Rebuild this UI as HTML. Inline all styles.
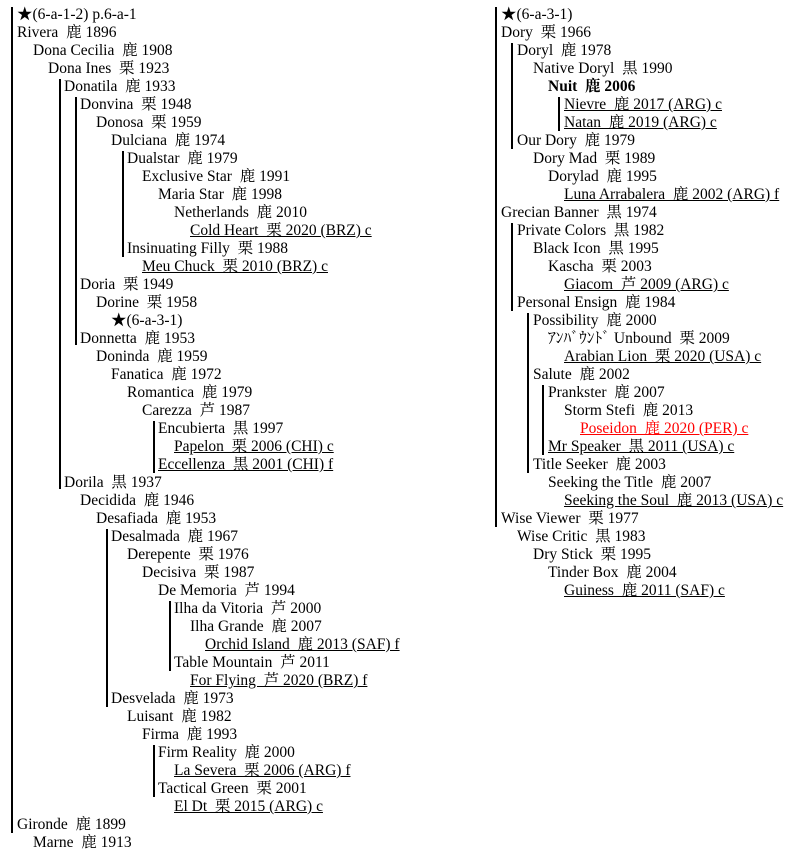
<!DOCTYPE html>
<html><head><meta charset="utf-8"><style>
body{margin:0;width:799px;height:847px;overflow:hidden;background:#fff;position:relative;font-family:"Liberation Serif","Noto Serif CJK SC","Noto Sans CJK JP",serif;font-size:15.5px;color:#000}
.r{position:absolute;white-space:pre;line-height:18px;height:18px;margin-top:1px}
.u{text-decoration:underline}
.v{position:absolute;width:2px;background:#000}
.red{color:#f00}
</style></head><body>
<div class="v" style="left:11px;top:7px;height:826px"></div>
<div class="v" style="left:59px;top:79px;height:410px"></div>
<div class="v" style="left:75px;top:97px;height:248px"></div>
<div class="v" style="left:122px;top:151px;height:106px"></div>
<div class="v" style="left:153px;top:421px;height:52px"></div>
<div class="v" style="left:106px;top:529px;height:178px"></div>
<div class="v" style="left:169px;top:601px;height:70px"></div>
<div class="v" style="left:153px;top:745px;height:52px"></div>
<div class="v" style="left:495px;top:7px;height:520px"></div>
<div class="v" style="left:511px;top:43px;height:106px"></div>
<div class="v" style="left:558px;top:97px;height:34px"></div>
<div class="v" style="left:511px;top:223px;height:88px"></div>
<div class="v" style="left:527px;top:313px;height:160px"></div>
<div class="v" style="left:542px;top:385px;height:70px"></div>

<div class="r" style="left:17px;top:5px">★(6-a-1-2) p.6-a-1</div>
<div class="r" style="left:17px;top:23px">Rivera  鹿 1896</div>
<div class="r" style="left:33px;top:41px">Dona Cecilia  鹿 1908</div>
<div class="r" style="left:48px;top:59px">Dona Ines  栗 1923</div>
<div class="r" style="left:64px;top:77px">Donatila  鹿 1933</div>
<div class="r" style="left:80px;top:95px">Donvina  栗 1948</div>
<div class="r" style="left:96px;top:113px">Donosa  栗 1959</div>
<div class="r" style="left:111px;top:131px">Dulciana  鹿 1974</div>
<div class="r" style="left:127px;top:149px">Dualstar  鹿 1979</div>
<div class="r" style="left:142px;top:167px">Exclusive Star  鹿 1991</div>
<div class="r" style="left:158px;top:185px">Maria Star  鹿 1998</div>
<div class="r" style="left:174px;top:203px">Netherlands  鹿 2010</div>
<div class="r u" style="left:190px;top:221px">Cold Heart  栗 2020 (BRZ) c</div>
<div class="r" style="left:127px;top:239px">Insinuating Filly  栗 1988</div>
<div class="r u" style="left:142px;top:257px">Meu Chuck  栗 2010 (BRZ) c</div>
<div class="r" style="left:80px;top:275px">Doria  栗 1949</div>
<div class="r" style="left:96px;top:293px">Dorine  栗 1958</div>
<div class="r" style="left:111px;top:311px">★(6-a-3-1)</div>
<div class="r" style="left:80px;top:329px">Donnetta  鹿 1953</div>
<div class="r" style="left:96px;top:347px">Doninda  鹿 1959</div>
<div class="r" style="left:111px;top:365px">Fanatica  鹿 1972</div>
<div class="r" style="left:127px;top:383px">Romantica  鹿 1979</div>
<div class="r" style="left:142px;top:401px">Carezza  芦 1987</div>
<div class="r" style="left:158px;top:419px">Encubierta  黒 1997</div>
<div class="r u" style="left:174px;top:437px">Papelon  栗 2006 (CHI) c</div>
<div class="r u" style="left:158px;top:455px">Eccellenza  黒 2001 (CHI) f</div>
<div class="r" style="left:64px;top:473px">Dorila  黒 1937</div>
<div class="r" style="left:80px;top:491px">Decidida  鹿 1946</div>
<div class="r" style="left:96px;top:509px">Desafiada  鹿 1953</div>
<div class="r" style="left:111px;top:527px">Desalmada  鹿 1967</div>
<div class="r" style="left:127px;top:545px">Derepente  栗 1976</div>
<div class="r" style="left:142px;top:563px">Decisiva  栗 1987</div>
<div class="r" style="left:158px;top:581px">De Memoria  芦 1994</div>
<div class="r" style="left:174px;top:599px">Ilha da Vitoria  芦 2000</div>
<div class="r" style="left:190px;top:617px">Ilha Grande  鹿 2007</div>
<div class="r u" style="left:205px;top:635px">Orchid Island  鹿 2013 (SAF) f</div>
<div class="r" style="left:174px;top:653px">Table Mountain  芦 2011</div>
<div class="r u" style="left:190px;top:671px">For Flying  芦 2020 (BRZ) f</div>
<div class="r" style="left:111px;top:689px">Desvelada  鹿 1973</div>
<div class="r" style="left:127px;top:707px">Luisant  鹿 1982</div>
<div class="r" style="left:142px;top:725px">Firma  鹿 1993</div>
<div class="r" style="left:158px;top:743px">Firm Reality  鹿 2000</div>
<div class="r u" style="left:174px;top:761px">La Severa  栗 2006 (ARG) f</div>
<div class="r" style="left:158px;top:779px">Tactical Green  栗 2001</div>
<div class="r u" style="left:174px;top:797px">El Dt  栗 2015 (ARG) c</div>
<div class="r" style="left:17px;top:815px">Gironde  鹿 1899</div>
<div class="r" style="left:33px;top:833px">Marne  鹿 1913</div>

<div class="r" style="left:501px;top:5px">★(6-a-3-1)</div>
<div class="r" style="left:501px;top:23px">Dory  栗 1966</div>
<div class="r" style="left:517px;top:41px">Doryl  鹿 1978</div>
<div class="r" style="left:533px;top:59px">Native Doryl  黒 1990</div>
<div class="r" style="left:548px;top:77px;font-weight:bold">Nuit  鹿 2006</div>
<div class="r u" style="left:564px;top:95px">Nievre  鹿 2017 (ARG) c</div>
<div class="r u" style="left:564px;top:113px">Natan  鹿 2019 (ARG) c</div>
<div class="r" style="left:517px;top:131px">Our Dory  鹿 1979</div>
<div class="r" style="left:533px;top:149px">Dory Mad  栗 1989</div>
<div class="r" style="left:548px;top:167px">Dorylad  鹿 1995</div>
<div class="r u" style="left:564px;top:185px">Luna Arrabalera  鹿 2002 (ARG) f</div>
<div class="r" style="left:501px;top:203px">Grecian Banner  黒 1974</div>
<div class="r" style="left:517px;top:221px">Private Colors  黒 1982</div>
<div class="r" style="left:533px;top:239px">Black Icon  黒 1995</div>
<div class="r" style="left:548px;top:257px">Kascha  栗 2003</div>
<div class="r u" style="left:564px;top:275px">Giacom  芦 2009 (ARG) c</div>
<div class="r" style="left:517px;top:293px">Personal Ensign  鹿 1984</div>
<div class="r" style="left:533px;top:311px">Possibility  鹿 2000</div>
<div class="r" style="left:548px;top:329px">ｱﾝﾊﾞｳﾝﾄﾞ Unbound  栗 2009</div>
<div class="r u" style="left:564px;top:347px">Arabian Lion  栗 2020 (USA) c</div>
<div class="r" style="left:533px;top:365px">Salute  鹿 2002</div>
<div class="r" style="left:548px;top:383px">Prankster  鹿 2007</div>
<div class="r" style="left:564px;top:401px">Storm Stefi  鹿 2013</div>
<div class="r u red" style="left:580px;top:419px">Poseidon  鹿 2020 (PER) c</div>
<div class="r u" style="left:548px;top:437px">Mr Speaker  黒 2011 (USA) c</div>
<div class="r" style="left:533px;top:455px">Title Seeker  鹿 2003</div>
<div class="r" style="left:548px;top:473px">Seeking the Title  鹿 2007</div>
<div class="r u" style="left:564px;top:491px">Seeking the Soul  鹿 2013 (USA) c</div>
<div class="r" style="left:501px;top:509px">Wise Viewer  栗 1977</div>
<div class="r" style="left:517px;top:527px">Wise Critic  黒 1983</div>
<div class="r" style="left:533px;top:545px">Dry Stick  栗 1995</div>
<div class="r" style="left:548px;top:563px">Tinder Box  鹿 2004</div>
<div class="r u" style="left:564px;top:581px">Guiness  鹿 2011 (SAF) c</div>
</body></html>
